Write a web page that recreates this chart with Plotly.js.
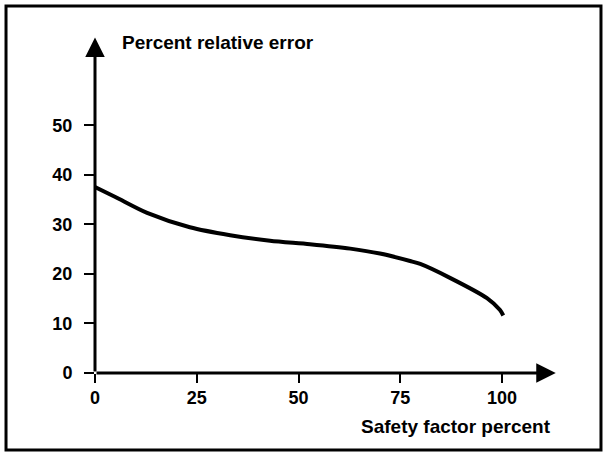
<!DOCTYPE html>
<html>
<head>
<meta charset="utf-8">
<script src="https://cdn.plot.ly/plotly-3.0.1.min.js"></script>
<style>
  html, body { margin: 0; padding: 0; background: #ffffff; }
  #chart { width: 604px; height: 453px; }
</style>
</head>
<body>
<div id="chart"></div>
<script>
// Data
const safetyFactor = [0, 5, 12.8, 23.3, 33.2, 43, 52.8, 62.7, 70, 77.4, 79.9, 87.2, 96.3, 99.5, 100.3];
const relativeError = [37.5, 35.5, 32.3, 29.4, 27.8, 26.7, 26.0, 25.1, 24.1, 22.6, 22.0, 19.2, 15.1, 12.7, 11.6];

const xTicks = [0, 25, 50, 75, 100];
const yTicks = [0, 10, 20, 30, 40, 50];

const xTitle = "Safety factor percent";
const yTitle = "Percent relative error";

const xMax = 113.5;
const yMax = 68;

const tickFont = { family: "Liberation Sans, Arial, sans-serif", size: 18, color: "#000", weight: "bold" };
const titleFont = { family: "Liberation Sans, Arial, sans-serif", size: 19, color: "#000", weight: "bold" };

const trace = {
  x: safetyFactor,
  y: relativeError,
  type: "scatter",
  mode: "lines",
  line: { color: "#000", width: 4, shape: "spline", smoothing: 0.8 },
  hoverinfo: "skip",
  cliponaxis: false
};

const layout = {
  width: 604,
  height: 453,
  margin: { l: 95, r: 47, t: 36, b: 80 },
  paper_bgcolor: "#ffffff",
  plot_bgcolor: "#ffffff",
  showlegend: false,
  xaxis: {
    range: [0, xMax],
    tickvals: xTicks,
    ticktext: xTicks.map(String),
    ticks: "outside",
    ticklen: 9,
    tickwidth: 2,
    tickcolor: "#000",
    ticklabelstandoff: -1,
    tickfont: tickFont,
    showgrid: false,
    zeroline: false,
    showline: false,
    fixedrange: true
  },
  yaxis: {
    range: [0, yMax],
    tickvals: yTicks,
    ticktext: yTicks.map(String),
    ticks: "outside",
    ticklen: 10,
    tickwidth: 2,
    tickcolor: "#000",
    ticklabelstandoff: 8,
    tickfont: tickFont,
    showgrid: false,
    zeroline: false,
    showline: false,
    fixedrange: true
  },
  annotations: [
    // x axis with arrow
    { x: xMax - 0.3, y: 0, xref: "x", yref: "y", ax: 0, ay: 0, axref: "x", ayref: "y",
      showarrow: true, arrowhead: 2, arrowsize: 1.3, arrowwidth: 3, arrowcolor: "#000", text: "", standoff: 0 },
    // y axis with arrow
    { x: 0, y: yMax - 0.3, xref: "x", yref: "y", ax: 0, ay: 0, axref: "x", ayref: "y",
      showarrow: true, arrowhead: 2, arrowsize: 1.3, arrowwidth: 3, arrowcolor: "#000", text: "", standoff: 0 },
    { x: 0.054, y: 0.982, xref: "paper", yref: "paper", xanchor: "left", yanchor: "middle",
      text: yTitle, showarrow: false, font: titleFont },
    { x: 0.989, y: -0.158, xref: "paper", yref: "paper", xanchor: "right", yanchor: "middle",
      text: xTitle, showarrow: false, font: titleFont, borderpad: 0, bgcolor: "rgba(0,0,0,0)" }
  ],
  shapes: [
    { type: "rect", xref: "paper", yref: "paper", x0: -0.1926, x1: 1.0952, y0: -0.2285, y1: 1.089,
      line: { color: "#000", width: 3 }, fillcolor: "rgba(0,0,0,0)", layer: "below" }
  ]
};

Plotly.newPlot("chart", [trace], layout, { displayModeBar: false, staticPlot: true });
</script>
</body>
</html>
